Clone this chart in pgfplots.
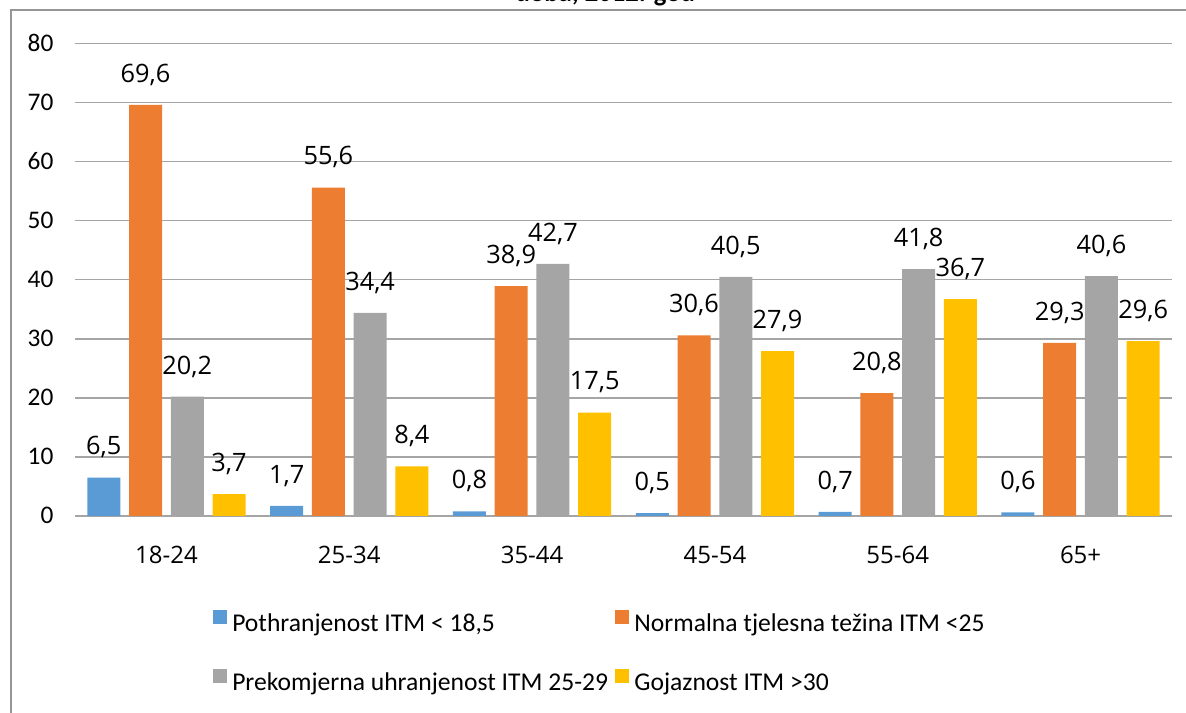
\documentclass[border=0pt]{standalone}
\usepackage{fontspec}
\setmainfont{Carlito}
\newfontfamily\osfont{Open Sans}
\usepackage{pgfplots}
\pgfplotsset{compat=1.18}

\definecolor{cBlue}{HTML}{5B9BD5}
\definecolor{cOrange}{HTML}{ED7D31}
\definecolor{cGray}{HTML}{A5A5A5}
\definecolor{cYellow}{HTML}{FFC000}
\definecolor{gridgray}{RGB}{165,165,165}
\definecolor{framegray}{RGB}{150,150,150}

\begin{document}
\begin{tikzpicture}
\useasboundingbox (0,0) rectangle (889.5pt,534.75pt);
% frame and cut-off title
\draw[framegray, line width=1.5pt] (7.9pt,-2pt) -- (7.9pt,527.6pt) -- (895pt,527.6pt);
\node[anchor=base, font=\bfseries\fontsize{20}{24}\selectfont, inner sep=0pt] at (454pt,533.3pt) {doba, 2012. god};
\begin{axis}[
    at={(56.25pt,147.75pt)}, anchor=south west,
    scale only axis,
    width=822.75pt, height=354.4pt,
    ybar=6.55pt,
    bar width=24.75pt,
    xmin=-0.5, xmax=5.5,
    ymin=0, ymax=80,
    xtick={0,...,5},
    xticklabels={18-24,25-34,35-44,45-54,55-64,65+},
    ytick={0,10,...,80},
    major tick length=0pt,
    axis line style={draw=none},
    ymajorgrids=true,
    grid style={gridgray, line width=1.1pt},
    /pgf/number format/assume math mode=true,
    yticklabel style={font=\fontsize{19}{21}\selectfont, anchor=base east, inner sep=0pt, xshift=-16pt, yshift=-6pt},
    xticklabel style={font=\osfont\fontsize{18}{20}\selectfont, anchor=base, inner sep=0pt, yshift=-36pt},
    nodes near coords={\pgfmathprintnumber[use comma,fixed,fixed zerofill,precision=1,assume math mode=true]{\pgfplotspointmeta}},
    every node near coord/.append style={font=\osfont\fontsize{19}{22}\selectfont, anchor=base, inner sep=0pt, yshift=17pt, black},
    legend image code/.code={\fill[#1, draw=none] (0pt,0.75pt) rectangle (10.5pt,11.25pt);},
    legend columns=2,
    legend cell align=left,
    legend style={
        draw=none, fill=none,
        at={(0.1258,-0.1975)}, anchor=north west,
        inner xsep=0pt, inner ysep=0pt,
        font=\fontsize{19.2}{22}\selectfont,
        nodes={inner sep=0pt, text height=14pt, text depth=4pt},
        row sep=24.2pt,
        /tikz/every odd column/.append style={column sep=3.75pt},
        /tikz/every even column/.append style={column sep=5.5pt},
    },
]
    \addplot[fill=cBlue, draw=none] coordinates {(0,6.5) (1,1.7) (2,0.8) (3,0.5) (4,0.7) (5,0.6)};
    \addplot[fill=cOrange, draw=none] coordinates {(0,69.6) (1,55.6) (2,38.9) (3,30.6) (4,20.8) (5,29.3)};
    \addplot[fill=cGray, draw=none] coordinates {(0,20.2) (1,34.4) (2,42.7) (3,40.5) (4,41.8) (5,40.6)};
    \addplot[fill=cYellow, draw=none] coordinates {(0,3.7) (1,8.4) (2,17.5) (3,27.9) (4,36.7) (5,29.6)};
    \legend{{Pothranjenost ITM < 18,5}, {Normalna tjelesna težina ITM <25}, {Prekomjerna uhranjenost ITM 25-29}, {Gojaznost ITM >30}}
\end{axis}
\end{tikzpicture}
\end{document}
